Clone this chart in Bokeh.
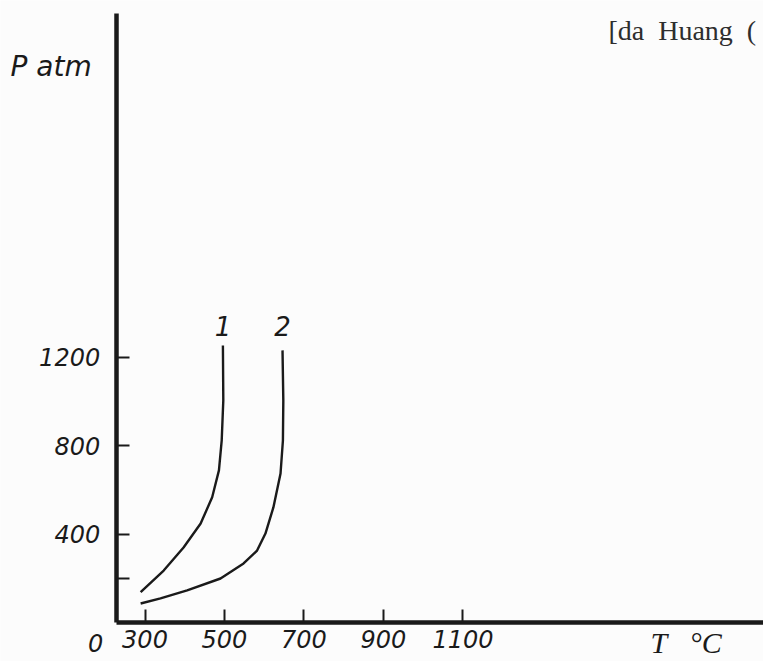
from bokeh.plotting import figure
from bokeh.models import Range1d, FixedTicker, Label
from bokeh.embed import file_html
from bokeh.resources import INLINE

# ---- data ----
curve1_T = [496, 497, 493, 486, 469, 440, 397, 347, 289]
curve1_P = [1252, 1004, 824, 688, 567, 448, 340, 236, 138]

curve2_T = [646, 648, 647, 641, 623, 603, 582, 548, 490, 406, 339, 289]
curve2_P = [1230, 1004, 823, 674, 521, 403, 326, 268, 200, 146, 110, 87]

series_names = ["1", "2"]
x_ticks = [300, 500, 700, 900, 1100]
y_ticks = [200, 400, 800, 1200]
y_tick_labels = {200: "", 400: "400", 800: "800", 1200: "1200"}

INK = "#1a1a1a"
BG = "#fcfcfc"

T_ORIGIN = 227.5      # temperature at the vertical axis
P_TOP = 2751          # top end of the vertical axis line
T_RIGHT = 1856        # right end of horizontal axis line

p = figure(width=763, height=661, output_backend="svg", toolbar_location=None,
           x_range=Range1d(-63.6, 1856.2), y_range=Range1d(-174.7, 2809.5),
           min_border=0, min_border_left=0, min_border_right=0,
           min_border_top=0, min_border_bottom=0)
p.background_fill_color = BG
p.border_fill_color = BG
p.outline_line_color = None
p.grid.visible = False

for ax in (p.xaxis, p.yaxis):
    ax.axis_line_width = 4.5
    ax.axis_line_color = INK
    ax.major_tick_in = 13
    ax.major_tick_out = 0
    ax.major_tick_line_width = 2
    ax.major_tick_line_color = INK
    ax.minor_tick_line_color = None
    ax.major_label_text_font = "DejaVu Sans"
    ax.major_label_text_font_style = "italic"
    ax.major_label_text_font_size = "24px"
    ax.major_label_text_color = INK

p.xaxis.fixed_location = 0
p.yaxis.fixed_location = T_ORIGIN
p.xaxis.bounds = (T_ORIGIN, T_RIGHT)
p.yaxis.bounds = (0, P_TOP)
p.xaxis.ticker = FixedTicker(ticks=x_ticks)
p.yaxis.ticker = FixedTicker(ticks=y_ticks)
p.yaxis.major_label_overrides = y_tick_labels
p.xaxis.major_label_standoff = 7
p.yaxis.major_label_standoff = 16

p.line(curve1_T, curve1_P, line_color=INK, line_width=2.4)
p.line(curve2_T, curve2_P, line_color=INK, line_width=2.4)

# curve numbers
for name, T in zip(series_names, [curve1_T[0], curve2_T[0]]):
    p.add_layout(Label(x=T, y=1342, text=name, text_align="center",
                       text_baseline="middle", text_font="DejaVu Sans",
                       text_font_style="italic", text_font_size="26px",
                       text_color=INK))

# origin label, axis titles, source note
p.add_layout(Label(x=175.5, y=-93, text="0", text_align="center",
                   text_baseline="middle", text_font="DejaVu Sans",
                   text_font_style="italic", text_font_size="24px",
                   text_color=INK))
p.add_layout(Label(x=1572, y=-88, text="T\u00a0\u00a0\u00a0°C", text_align="left",
                   text_baseline="middle", text_font="Liberation Serif",
                   text_font_style="italic", text_font_size="30px",
                   text_color=INK))
p.add_layout(Label(x=-38.4, y=2511, text="P atm", text_align="left",
                   text_baseline="middle", text_font="DejaVu Sans",
                   text_font_style="italic", text_font_size="28px",
                   text_color=INK))
p.add_layout(Label(x=1466, y=2674, text="[da\u00a0\u00a0Huang\u00a0\u00a0(",
                   text_align="left", text_baseline="alphabetic",
                   text_font="Liberation Serif",
                   text_font_size="28px", text_color="#2e2e2e"))

open("out.html", "w").write(file_html(p, INLINE))
